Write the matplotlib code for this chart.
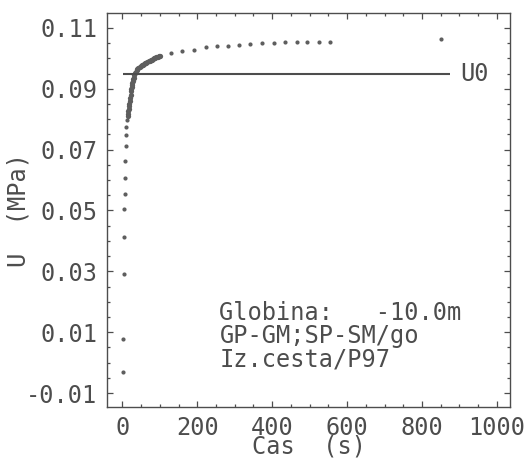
import numpy as np
import matplotlib
matplotlib.use("Agg")
import matplotlib.pyplot as plt
from matplotlib.ticker import MultipleLocator, FormatStrFormatter

# ── measured pore pressure during dissipation ────────────────────────────────
# early readings, 1 s apart
t_early = [1, 2, 3, 4, 5, 6, 7, 8, 9, 10, 11, 12]
u_early = [-0.0030, 0.0078, 0.0292, 0.0414, 0.0505, 0.0555,
           0.0606, 0.0663, 0.0711, 0.0748, 0.0774, 0.0796]

# dense readings while the pressure builds up
t_dense = [14, 15, 16, 17, 18, 19, 20, 21, 22, 23, 24, 25, 26, 27, 28, 29,
           30, 32, 34, 36, 38, 40, 43, 46, 49, 52, 55, 58, 61, 64, 67, 70,
           73, 76, 79, 82, 85, 88, 91, 94, 97, 100]
u_dense = [0.0810, 0.0818, 0.0826, 0.0834, 0.0843, 0.0851, 0.0859, 0.0870,
           0.0881, 0.0892, 0.0900, 0.0907, 0.0914, 0.0920, 0.0926, 0.0931,
           0.0936, 0.0944, 0.0951, 0.0956, 0.0961, 0.0965, 0.0969, 0.0972,
           0.0975, 0.0977, 0.0979, 0.0981, 0.0984, 0.0986, 0.0988, 0.0990,
           0.0992, 0.0994, 0.0996, 0.0998, 0.1000, 0.1002, 0.1003, 0.1005,
           0.1007, 0.1009]

# sparse readings afterwards
t_late = [129, 159, 191, 222, 252, 281, 312, 342, 373, 404, 435, 465, 493,
          524, 554, 852]
u_late = [0.1019, 0.1024, 0.1027, 0.1036, 0.1040, 0.1041, 0.1043, 0.1048,
          0.1049, 0.1049, 0.1053, 0.1054, 0.1054, 0.1054, 0.1054, 0.1063]

U0 = 0.0948            # hydrostatic pressure at depth
U0_SPAN = (2, 875)     # time range of the U0 reference line

info_lines = ["Globina:   -10.0m", "GP-GM;SP-SM/go", "Iz.cesta/P97"]

INK = "#4d4d4d"
DOT = "#5e5e5e"

plt.rcParams["font.family"] = ["DejaVu Sans Mono"]
plt.rcParams["axes.unicode_minus"] = False

fig = plt.figure(figsize=(5.28, 4.59), dpi=100)
ax = fig.add_axes([0.2027, 0.1139, 0.7632, 0.8571])

ax.plot(t_early, u_early, ls="none", marker="o", ms=3.0, mec="none", mfc=DOT)
ax.plot(t_dense, u_dense, ls="none", marker="o", ms=3.8, mec="none", mfc=DOT)
ax.plot(t_late, u_late, ls="none", marker="o", ms=3.0, mec="none", mfc=DOT)

ax.plot(U0_SPAN, [U0, U0], color=INK, lw=1.5, solid_capstyle="butt")
ax.text(901, U0, "U0", fontsize=17, color=INK, ha="left", va="center")

for k, line in enumerate(info_lines):
    ax.text(0.279, 0.2217 - 0.06 * k, line, transform=ax.transAxes,
            fontsize=17, color=INK, ha="left", va="baseline")

ax.set_xlim(-41, 1035)
ax.set_ylim(-0.0145, 0.1148)

ax.xaxis.set_major_locator(MultipleLocator(200))
ax.xaxis.set_minor_locator(MultipleLocator(50))
ax.set_yticks(np.arange(-0.01, 0.111, 0.02))
ax.yaxis.set_minor_locator(MultipleLocator(0.005))
ax.yaxis.set_major_formatter(FormatStrFormatter("%.2f"))

ax.tick_params(which="both", direction="in", top=True, right=True,
               color=INK, width=0.9)
ax.tick_params(which="major", length=4.2, labelsize=17, labelcolor=INK)
ax.tick_params(which="minor", length=2.2)
ax.tick_params(axis="x", which="major", pad=7)
ax.tick_params(axis="y", which="major", pad=7)

for sp in ax.spines.values():
    sp.set_color(INK)
    sp.set_linewidth(1.0)

ax.set_xlabel("Cas  (s)", fontsize=17, color=INK, labelpad=-4)
ax.set_ylabel("U  (MPa)", fontsize=17, color=INK)
ax.yaxis.set_label_coords(-0.19, 0.5)

fig.savefig("out.png", dpi=100)
